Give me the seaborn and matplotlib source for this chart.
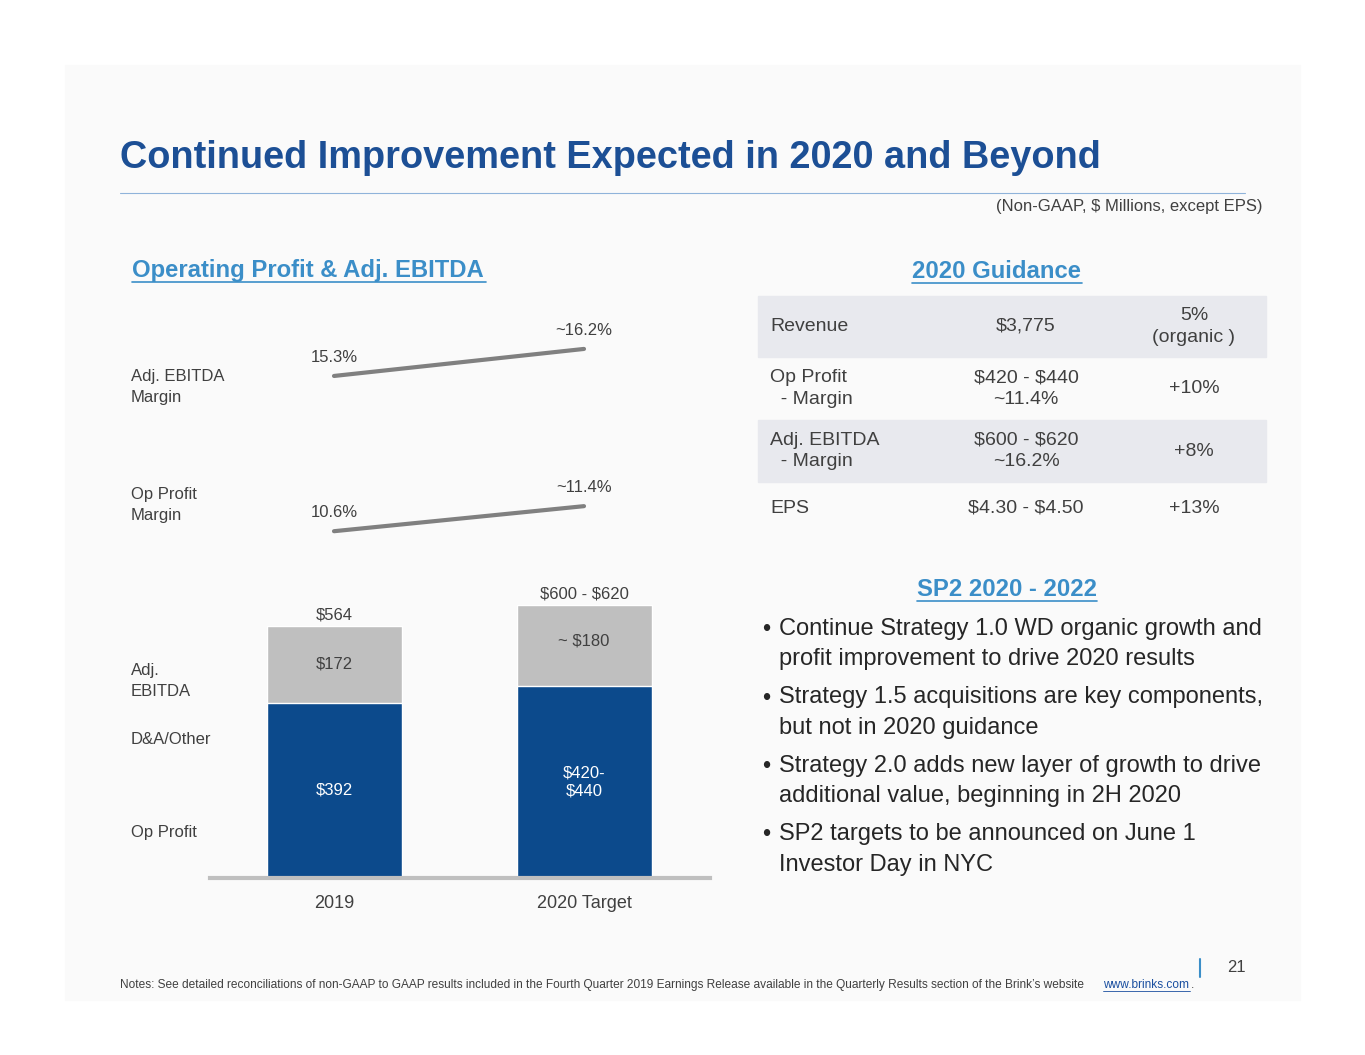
import matplotlib
matplotlib.use("Agg")
from matplotlib import pyplot as plt
from matplotlib.patches import Rectangle
import seaborn as sns
import pandas as pd

sns.set_theme(style="white")
plt.rcParams['font.family'] = ['Liberation Sans', 'DejaVu Sans']

# data
years = ["2019", "2020 Target"]
op_profit = [392, 430]
dna_other = [172, 180]
ebitda_margin = [15.3, 16.2]
op_margin = [10.6, 11.4]
op_labels = ["$392", "$420-\n$440"]
dna_labels = ["$172", "~ $180"]
total_labels = ["$564", "$600 - $620"]
ebitda_margin_labels = ["15.3%", "~16.2%"]
op_margin_labels = ["10.6%", "~11.4%"]
guide_rows = [("Revenue", "$3,775", "5%\n(organic )"),
              ("Op Profit\n  - Margin", "$420 - $440\n~11.4%", "+10%"),
              ("Adj. EBITDA\n  - Margin", "$600 - $620\n~16.2%", "+8%"),
              ("EPS", "$4.30 - $4.50", "+13%")]
bullets = ["Continue Strategy 1.0 WD organic growth and\nprofit improvement to drive 2020 results",
           "Strategy 1.5 acquisitions are key components,\nbut not in 2020 guidance",
           "Strategy 2.0 adds new layer of growth to drive\nadditional value, beginning in 2H 2020",
           "SP2 targets to be announced on June 1\nInvestor Day in NYC"]

W, H = 1365, 1055
fig = plt.figure(figsize=(W / 100, H / 100), dpi=100)
fig.patch.set_facecolor("white")

def fx(x): return x / W
def fy(y): return 1 - y / H
def T(x, y, s, **kw): fig.text(fx(x), fy(y), s, parse_math=False, **kw)
def axes_px(l, t, r, b): return fig.add_axes([fx(l), fy(b), fx(r) - fx(l), (b - t) / H])

fig.patches.append(Rectangle((fx(65), fy(1000)), fx(1235), 935 / H, transform=fig.transFigure,
                             color="#fafafa", zorder=-10))

BLUE = "#0c4a8c"
TITLE = "#1c4f95"
LINK = "#3b8ec8"
TXT = "#404040"

T(120, 158, "Continued Improvement Expected in 2020 and Beyond", fontsize=27.3, fontweight="bold",
  color=TITLE, va="center")
fig.add_artist(plt.Line2D([fx(120), fx(1245)], [fy(193), fy(193)], color="#8fb3da", lw=0.8))
T(1262, 206, "(Non-GAAP, $ Millions, except EPS)", fontsize=12, color=TXT, ha="right", va="center")

def link(x, y, s, ha):
    T(x, y, s, fontsize=17.2, fontweight="bold", color=LINK, ha=ha, va="center")
for x, y, s, ha, x0, x1 in [(132, 270, "Operating Profit & Adj. EBITDA", "left", 132, 486),
                            (997, 271, "2020 Guidance", "center", 912, 1082),
                            (1007, 589, "SP2 2020 - 2022", "center", 917, 1097)]:
    link(x, y, s, ha)
    fig.add_artist(plt.Line2D([fx(x0), fx(x1)], [fy(y + 12), fy(y + 12)], color=LINK, lw=1.2))

# bars
df = pd.DataFrame({"year": years, "op": op_profit, "dna": dna_other})
df["total"] = df["op"] + df["dna"]
ax = axes_px(210, 560, 710, 878)
sns.barplot(data=df, x="year", y="total", color="#bfbfbf", width=0.54, ax=ax, saturation=1)
sns.barplot(data=df, x="year", y="op", color=BLUE, width=0.54, ax=ax, saturation=1)
ax.set_xlim(-0.496, 1.504)
ax.set_ylim(0, 711)
for s in ["top", "left", "right"]:
    ax.spines[s].set_visible(False)
ax.spines["bottom"].set_color("#bfbfbf")
ax.spines["bottom"].set_linewidth(3)
ax.set_yticks([])
ax.set_xlabel("")
ax.set_ylabel("")
ax.tick_params(axis="x", length=0, labelsize=13, labelcolor=TXT, pad=12)
ax.set_facecolor("none")
for i in range(2):
    ax.text(i, op_profit[i] / 2, op_labels[i], ha="center", va="center", color="white", fontsize=12,
            parse_math=False)
    ax.text(i, op_profit[i] + dna_other[i] / 2 + (10 if i else 0), dna_labels[i], ha="center",
            va="center", color=TXT, fontsize=12, parse_math=False)
    ax.text(i, df["total"][i] + 8, total_labels[i], ha="center", va="bottom", color=TXT, fontsize=12,
            parse_math=False)

# margin lines
for (top, bot, lo, hi, vals, labs) in [(330, 400, 14.5, 16.83, ebitda_margin, ebitda_margin_labels),
                                       (480, 550, 10.0, 12.235, op_margin, op_margin_labels)]:
    la = axes_px(210, top, 710, bot)
    sns.lineplot(x=[0, 1], y=vals, color="#808080", lw=3, ax=la)
    la.set_xlim(-0.496, 1.504)
    la.set_ylim(lo, hi)
    la.axis("off")
    la.text(0, vals[0] + 0.35, labs[0], ha="center", va="bottom", fontsize=12, color=TXT)
    la.text(1, vals[1] + 0.35, labs[1], ha="center", va="bottom", fontsize=12, color=TXT)

for y, s in [(387, "Adj. EBITDA\nMargin"), (505, "Op Profit\nMargin"), (681, "Adj.\nEBITDA"),
             (739, "D&A/Other"), (832, "Op Profit")]:
    T(131, y, s, fontsize=12, color=TXT, va="center", linespacing=1.5)

# guidance table
bands = [(296, 357), (357, 420), (420, 482), (482, 535)]
for i, (t, b) in enumerate(bands):
    if i % 2 == 0:
        fig.patches.append(Rectangle((fx(758), fy(b)), fx(508), (b - t) / H, transform=fig.transFigure,
                                     color="#e8e9ee", zorder=-5))
    yc = (t + b) / 2
    r = guide_rows[i]
    T(770, yc, r[0], fontsize=14, color=TXT, va="center", linespacing=1.35)
    T(1026, yc, r[1], fontsize=14, color=TXT, va="center", ha="center", linespacing=1.35)
    T(1194, yc, r[2], fontsize=14, color=TXT, va="center", ha="center", linespacing=1.35)

for i, b in enumerate(bullets):
    T(762, 630 + i * 68.5, "•", fontsize=17, color="#262626", va="center")
    T(779, 644 + i * 68.5, b, fontsize=17, color="#262626", va="center", linespacing=1.5)

fig.add_artist(plt.Line2D([fx(1200), fx(1200)], [fy(959), fy(977)], color=LINK, lw=1.5))
T(1236, 968, "21", fontsize=12, color=TXT, ha="center", va="center")
T(120, 985, "Notes: See detailed reconciliations of non-GAAP to GAAP results included in the Fourth Quarter 2019 "
  "Earnings Release available in the Quarterly Results section of the Brink\u2019s website",
  fontsize=8.6, color=TXT, va="center")
T(1103, 985, "www.brinks.com", fontsize=8.6, color="#1a4fa0", va="center")
T(1191, 985, ".", fontsize=8.6, color=TXT, va="center")
fig.add_artist(plt.Line2D([fx(1103), fx(1190)], [fy(991), fy(991)], color="#1a4fa0", lw=0.6))

fig.savefig("out.png", dpi=100)
